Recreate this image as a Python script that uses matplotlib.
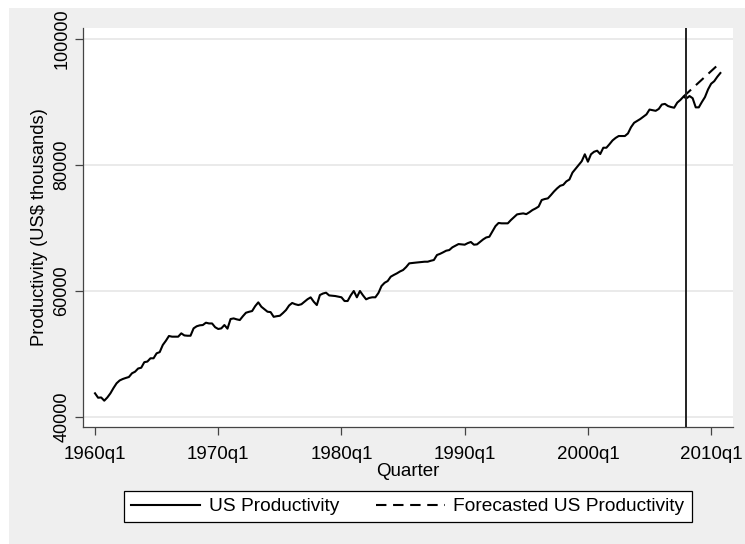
import numpy as np
import matplotlib
matplotlib.use("Agg")
import matplotlib.pyplot as plt
from matplotlib.patches import Rectangle

plt.rcParams['font.family'] = ['Liberation Sans', 'DejaVu Sans']

# ---- data (quarterly, starting 1960q1) ----
start_year = 1960
productivity = [
    43760, 43060, 43100, 42590, 43100, 43760, 44600, 45350, 45800, 46030,
    46200, 46350, 46940, 47190, 47700, 47820, 48700, 48800, 49320, 49320,
    50110, 50300, 51430, 52100, 52860, 52750, 52750, 52750, 53280, 52950,
    52900, 52900, 54070, 54400, 54550, 54600, 54970, 54850, 54850, 54250,
    53970, 54070, 54600, 54020, 55550, 55650, 55500, 55390, 56000, 56550,
    56700, 56820, 57600, 58200, 57500, 57100, 56710, 56650, 55900, 56000,
    56070, 56500, 56980, 57700, 58100, 57900, 57770, 57900, 58300, 58700,
    58990, 58300, 57770, 59360, 59600, 59730, 59300, 59250, 59200, 59100,
    59000, 58410, 58410, 59300, 60000, 59000, 60000, 59300, 58680, 58900,
    59000, 59000, 59680, 60790, 61300, 61580, 62270, 62550, 62800, 63100,
    63330, 63800, 64390, 64450, 64500, 64550, 64600, 64650, 64650, 64800,
    64920, 65710, 65900, 66140, 66400, 66500, 66930, 67200, 67450, 67400,
    67350, 67600, 67780, 67350, 67400, 67800, 68190, 68500, 68610, 69450,
    70300, 70800, 70740, 70740, 70740, 71260, 71700, 72160, 72250, 72320,
    72200, 72500, 72850, 73100, 73400, 74440, 74600, 74700, 75230, 75800,
    76290, 76700, 76850, 77400, 77700, 78800, 79400, 79990, 80600, 81700,
    80520, 81700, 82100, 82270, 81740, 82740, 82740, 83300, 83900, 84300,
    84600, 84600, 84600, 85010, 86000, 86700, 87000, 87300, 87660, 88030,
    88800, 88700, 88600, 88900, 89600, 89700, 89360, 89200, 89090, 89900,
    90320, 90840, 90580, 90940, 90600, 89150, 89150, 90000, 90780, 92000,
    92900, 93300, 94000, 94600,
]
forecast_start = 191  # quarter index of first forecast value (2007q4)
forecast = [90840, 91300, 91750, 92200, 92650, 93100, 93550, 94000,
            94450, 94900, 95350, 95800, 96260]
cutoff_quarter = 192  # 2008q1
xtick_labels = ['1960q1', '1970q1', '1980q1', '1990q1', '2000q1', '2010q1']
yticks = [40000, 60000, 80000, 100000]

W, H = 745, 544
fig = plt.figure(figsize=(W / 100, H / 100), dpi=100, facecolor='white')
fig.patches.append(Rectangle((9 / W, 0), 1 - 9 / W, 1 - 8 / H,
                             transform=fig.transFigure, facecolor='#efefef',
                             edgecolor='none', zorder=-10))

ax = fig.add_axes([83 / W, (H - 427) / H, (733 - 83) / W, (427 - 28) / H])
ax.set_facecolor('white')

x = np.arange(len(productivity))
xf = np.arange(forecast_start, forecast_start + len(forecast))

ax.plot(x, productivity, color='black', lw=1.5, label='US Productivity', zorder=3)
ax.plot(xf, forecast, color='black', lw=1.5, ls=(0, (5, 3.2)),
        label='Forecasted US Productivity', zorder=3)
ax.axvline(cutoff_quarter, color='#222222', lw=1.4, zorder=4)

ax.set_xlim(-3.9, 207.1)
ax.set_ylim(38413, 101746)

ax.set_xticks([i * 40 for i in range(len(xtick_labels))])
ax.set_xticklabels(xtick_labels)
ax.set_yticks(yticks)
ax.set_yticklabels([str(v) for v in yticks], rotation=90, va='center')

ax.grid(axis='y', color='#e6e6e6', lw=1.2)
ax.set_axisbelow(True)

for s in ['top', 'right']:
    ax.spines[s].set_visible(False)
for s in ['left', 'bottom']:
    ax.spines[s].set_color('#444444')
    ax.spines[s].set_linewidth(0.9)

ax.tick_params(axis='both', colors='#444444', labelcolor='black',
               labelsize=13, length=6, width=0.9)
ax.tick_params(axis='y', pad=3)
ax.tick_params(axis='x', pad=8, labelsize=13.5)

ax.set_xlabel('Quarter', fontsize=13.5, labelpad=0)
ax.set_ylabel('Productivity (US$ thousands)', fontsize=13.2, labelpad=4)

leg = fig.legend(loc='center', bbox_to_anchor=(408 / W, (H - 506.5) / H),
                 ncol=2, fontsize=13.8, frameon=True, fancybox=False,
                 edgecolor='black', facecolor='white', framealpha=1,
                 handlelength=3.6, handletextpad=0.45, columnspacing=1.9,
                 borderpad=0.38)
leg.get_frame().set_linewidth(0.9)

fig.savefig('out.png', dpi=100, facecolor=fig.get_facecolor())
